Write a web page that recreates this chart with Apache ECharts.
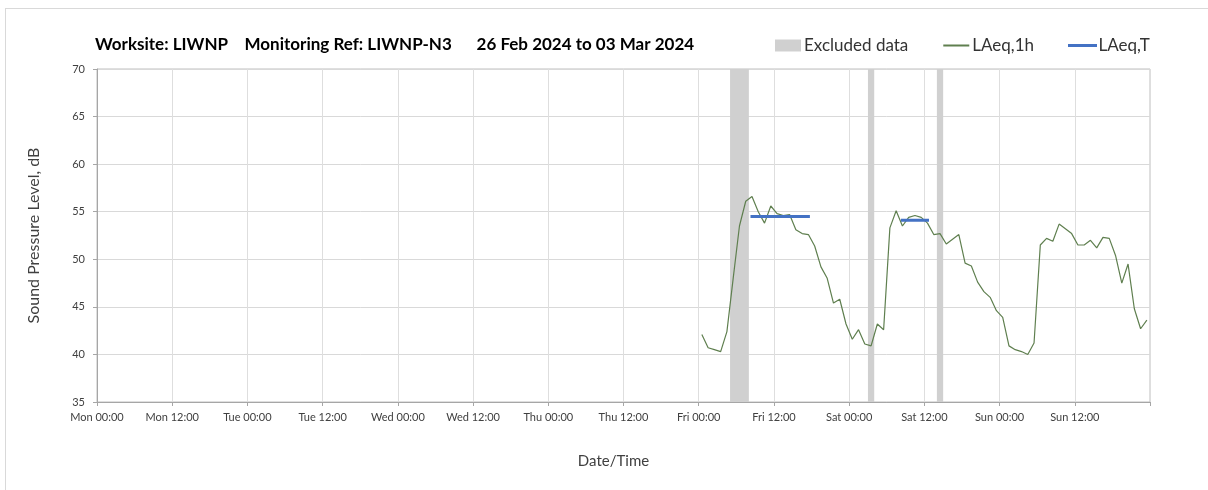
<!DOCTYPE html>
<html>
<head>
<meta charset="utf-8">
<script src="https://cdn.jsdelivr.net/npm/echarts@6/dist/echarts.min.js"></script>
<style>
  html, body { margin: 0; padding: 0; background: #fff; }
  #frame { position: absolute; left: 5px; top: 8px; width: 1210px; height: 490px; border: 1px solid #d9d9d9; }
  #main { position: absolute; left: 0; top: 0; width: 1208px; height: 490px; }
</style>
</head>
<body>
<div id="frame"></div>
<div id="main"></div>
<script>
// x values are hours from Mon 26 Feb 2024 00:00
var xTickLabels = ["Mon 00:00", "Mon 12:00", "Tue 00:00", "Tue 12:00", "Wed 00:00", "Wed 12:00",
  "Thu 00:00", "Thu 12:00", "Fri 00:00", "Fri 12:00", "Sat 00:00", "Sat 12:00", "Sun 00:00", "Sun 12:00"];

// hourly LAeq,1h, first point at Fri 00:30
var laeq1hStart = 96.5;
var laeqFri = [42.1, 40.7, 40.5, 40.3, 42.4, 48.0, 53.5, 56.1, 56.6, 55.0, 53.8, 55.6,
  54.8, 54.6, 54.7, 53.1, 52.7, 52.6, 51.4, 49.2, 48.0, 45.4, 45.8, 43.2];
var laeqSat = [41.6, 42.6, 41.1, 40.9, 43.2, 42.6, 53.3, 55.1, 53.5, 54.4, 54.6, 54.4,
  53.8, 52.6, 52.7, 51.6, 52.1, 52.6, 49.6, 49.3, 47.6, 46.6, 46.0, 44.6];
var laeqSun = [43.9, 40.9, 40.5, 40.3, 40.0, 41.2, 51.5, 52.2, 51.9, 53.7, 53.2, 52.7,
  51.5, 51.5, 52.0, 51.2, 52.3, 52.2, 50.4, 47.5, 49.5, 44.8, 42.7, 43.6];

// LAeq,T periods
var laeqTStart = [104.5, 128.5];
var laeqTEnd = [113.5, 132.5];
var laeqTValue = [54.5, 54.1];

// excluded periods
var exclStart = [101, 123, 134];
var exclEnd = [104, 124, 135];

var hourly = laeqFri.concat(laeqSat, laeqSun).map(function (v, i) {
  return [laeq1hStart + i, v];
});

var laeqT = [];
for (var i = 0; i < laeqTValue.length; i++) {
  if (i > 0) laeqT.push([laeqTEnd[i - 1] + 1, null]);
  laeqT.push([laeqTStart[i], laeqTValue[i]]);
  laeqT.push([laeqTEnd[i], laeqTValue[i]]);
}

var bands = exclStart.map(function (s, i) {
  return [{ xAxis: s }, { xAxis: exclEnd[i] }];
});

var chart = echarts.init(document.getElementById("main"));
var font = "Lato, 'Open Sans', sans-serif";
var noMarker = { color: "rgba(0,0,0,0)", borderColor: "rgba(0,0,0,0)", borderWidth: 0 };

var option = {
  animation: false,
  textStyle: { fontFamily: font },
  title: {
    text: "Worksite: LIWNP    Monitoring Ref: LIWNP-N3      26 Feb 2024 to 03 Mar 2024",
    left: 90,
    top: 31,
    textStyle: { fontSize: 17, fontWeight: "bold", color: "#000", fontFamily: font }
  },
  legend: {
    left: 770,
    top: 32,
    itemWidth: 26,
    itemHeight: 12,
    itemGap: 34,
    textStyle: { fontSize: 17, color: "#333", fontFamily: font, padding: [0, 0, 0, -2] },
    data: [
      { name: "Excluded data", icon: "rect" },
      { name: "LAeq,1h", itemStyle: noMarker },
      { name: "LAeq,T", itemStyle: noMarker, lineStyle: { width: 3 } }
    ]
  },
  grid: {
    left: 97,
    right: 58,
    top: 69,
    bottom: 88,
    show: true,
    borderColor: "#bfbfbf",
    borderWidth: 1
  },
  xAxis: {
    type: "value",
    min: 0,
    max: 168,
    interval: 12,
    name: "Date/Time",
    nameLocation: "middle",
    nameGap: 52,
    nameTextStyle: { fontSize: 15, color: "#404040", padding: [0, 20, 0, 0] },
    axisLine: { lineStyle: { color: "#a6a6a6" } },
    axisTick: { show: true, length: 4, lineStyle: { color: "#a6a6a6" } },
    axisLabel: {
      fontSize: 11,
      color: "#404040",
      margin: 10,
      formatter: function (v) { return xTickLabels[v / 12] || ""; }
    },
    splitLine: { show: true, lineStyle: { color: "#dedede" } }
  },
  yAxis: {
    type: "value",
    min: 35,
    max: 70,
    interval: 5,
    name: "Sound Pressure Level, dB",
    nameLocation: "middle",
    nameGap: 55,
    nameTextStyle: { fontSize: 16, color: "#404040" },
    axisLine: { show: true, lineStyle: { color: "#a6a6a6" } },
    axisTick: { show: true, length: 4, lineStyle: { color: "#a6a6a6" } },
    axisLabel: { fontSize: 11, color: "#404040", margin: 12 },
    splitLine: { show: true, lineStyle: { color: "#d9d9d9" } }
  },
  series: [
    {
      name: "Excluded data",
      type: "line",
      data: [],
      symbol: "none",
      itemStyle: { color: "#d0d0d0" },
      lineStyle: { color: "#d0d0d0" },
      markArea: {
        silent: true,
        itemStyle: { color: "#d0d0d0" },
        data: bands
      }
    },
    {
      name: "LAeq,1h",
      type: "line",
      data: hourly,
      symbol: "none",
      itemStyle: { color: "#5f7f4f" },
      lineStyle: { color: "#5f7f4f", width: 1.2 }
    },
    {
      name: "LAeq,T",
      type: "line",
      data: laeqT,
      symbol: "none",
      connectNulls: false,
      itemStyle: { color: "#4472c4" },
      lineStyle: { color: "#4472c4", width: 3, cap: "square" }
    }
  ]
};

chart.setOption(option);
</script>
</body>
</html>
